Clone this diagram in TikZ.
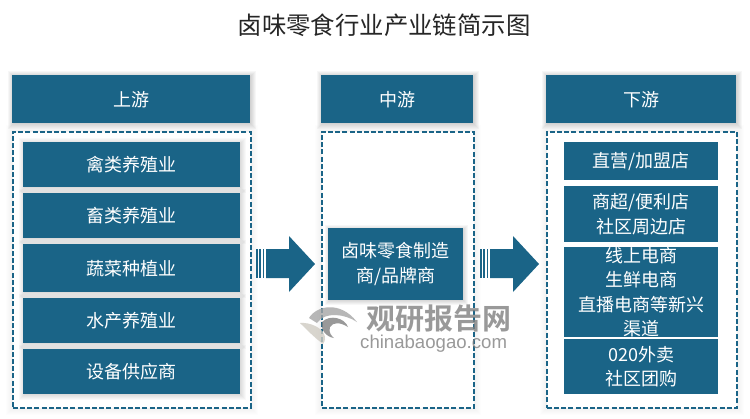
\documentclass[tikz,border=0pt]{standalone}
\usepackage{fontspec}
\setmainfont{Noto Sans CJK SC}[BoldFont={* Bold}]
\newfontfamily\wmfont{Liberation Sans}
\definecolor{teal}{HTML}{1A6487}
\definecolor{wm}{HTML}{808080}
\definecolor{wmtan}{HTML}{CFCBC2}
\newcommand{\softshade}[6]{% x y w h spread opacity
 \foreach \s in {1,...,#5}{
  \fill[black,opacity=#6] (#1-\s+2,#2-\s+2) rectangle (#1+#3+\s,#2+#4+\s);
 }}
\tikzset{
 x=1pt,y=-1pt,
 hdr/.style={fill=teal,text=white,font=\fontsize{18}{22}\selectfont,minimum width=#1,minimum height=48pt,inner sep=0pt,anchor=north west},
 itembox/.style n args={2}{fill=teal,text=white,font=\fontsize{18}{24.5}\selectfont,align=center,minimum width=#1,minimum height=#2,inner sep=0pt,anchor=north west},
 panel/.style n args={2}{draw=teal,line width=1.6pt,dash pattern=on 5pt off 2.2pt,fill=white,minimum width=#1,minimum height=#2,inner sep=0pt,anchor=north west},
}
\begin{document}
\begin{tikzpicture}
\useasboundingbox (0,0) rectangle (750,418);
\fill[white] (0,0) rectangle (750,418);
\node[font=\fontsize{24.4}{28}\selectfont,text=black!85] (title) at (384,25) {卤味零食行业产业链简示图};
% header and panel shadows
\softshade{12}{75}{238}{48}{6}{.03}
\softshade{321}{75}{152}{48}{6}{.03}
\softshade{546}{75}{190}{48}{6}{.03}
\softshade{12}{131}{238}{276}{8}{.008}
\softshade{321}{131}{152}{276}{8}{.008}
\softshade{546}{131}{190}{276}{8}{.008}
% headers
\node[hdr=238pt] (h1) at (12,75) {上游};
\node[hdr=152pt] (h2) at (321,75) {中游};
\node[hdr=190pt] (h3) at (546,75) {下游};
% panels
\node[panel={238pt}{276pt}] (p1) at (12,131) {};
\node[panel={152pt}{276pt}] (p2) at (321,131) {};
\node[panel={190pt}{276pt}] (p3) at (546,131) {};
% left items
\softshade{23}{142}{217}{45}{6}{.022}
\softshade{23}{193}{217}{45}{6}{.022}
\softshade{23}{244}{217}{48}{6}{.022}
\softshade{23}{298}{217}{45}{6}{.022}
\softshade{23}{349}{217}{45}{6}{.022}
\node[itembox={217pt}{45pt}] (a1) at (23,142) {禽类养殖业};
\node[itembox={217pt}{45pt}] (a2) at (23,193) {畜类养殖业};
\node[itembox={217pt}{48pt}] (a3) at (23,244) {蔬菜种植业};
\node[itembox={217pt}{45pt}] (a4) at (23,298) {水产养殖业};
\node[itembox={217pt}{45pt}] (a5) at (23,349) {设备供应商};
% middle
\softshade{328}{228}{135}{72}{5}{.03}
\node[itembox={135pt}{72pt}] (m) at (328,228) {卤味零食制造\\商/品牌商};
% right items
\node[itembox={154pt}{38pt}] (c1) at (564,142) {直营/加盟店};
\node[itembox={154pt}{56pt}] (c2) at (564,186) {商超/便利店\\社区周边店};
\node[itembox={154pt}{88pt}] (c3) at (564,247) {线上电商\\生鲜电商\\直播电商等新兴\\渠道};
\node[itembox={154pt}{55pt}] (c4) at (564,339) {020外卖\\社区团购};
% arrows
\foreach \ox in {256,480}{
 \fill[teal] (\ox,249) rectangle ++(1.8,29);
 \fill[teal] (\ox+3.3,249) rectangle ++(1.8,29);
 \fill[teal] (\ox+6.6,249) rectangle ++(1.8,29);
 \fill[teal] (\ox+10,249) -- (\ox+33,249) -- (\ox+33,236) -- (\ox+59,264) -- (\ox+33,292) -- (\ox+33,278) -- (\ox+10,278) -- cycle;
}
% watermark
\begin{scope}[opacity=.8]
\fill[wmtan] (300,323) .. controls (310,322) and (322,328) .. (324,334) .. controls (326,338) and (325,341) .. (323,344) .. controls (315,338) and (307,330) .. (300,323) -- cycle;
\fill[wm!70] (309,318) .. controls (316,306) and (340,300) .. (357,322) .. controls (345,314) and (325,311) .. (317,323) -- (309,318) -- cycle;
\fill[wm] (322,322) .. controls (330,314) and (345,318) .. (348,327) .. controls (340,322) and (333,322) .. (330,327) .. controls (328,333) and (332,336) .. (334,338) .. controls (326,337) and (320,329) .. (322,322) -- cycle;
\node[font=\fontsize{29}{32}\bfseries\selectfont,text=wm,anchor=west,inner sep=0pt] (w1) at (366,319) {观研报告网};
\node[font=\wmfont\fontsize{18.6}{22}\selectfont,text=wm,anchor=west,inner sep=0pt] (w2) at (360,344) {chinabaogao.com};
\end{scope}
\end{tikzpicture}
\end{document}
